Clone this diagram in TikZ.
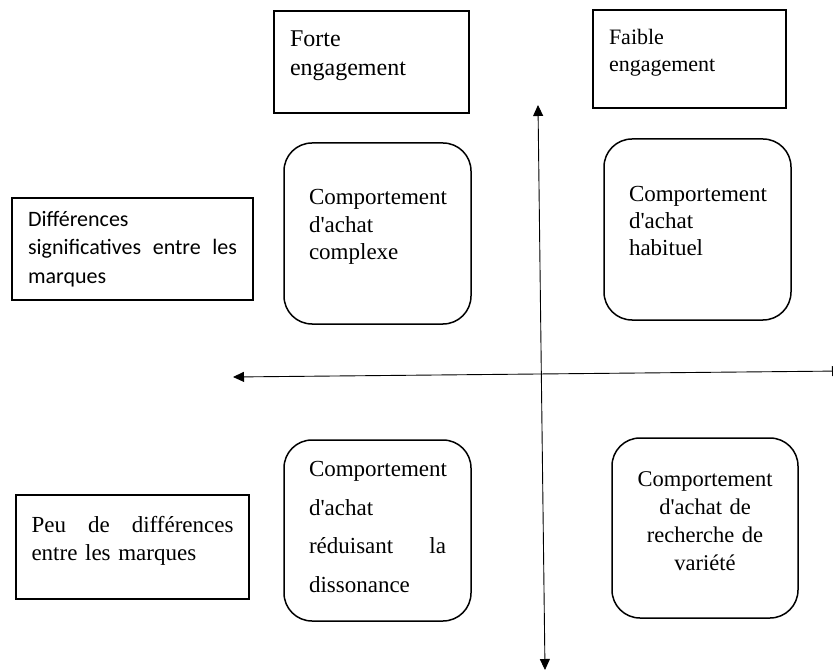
\documentclass[tikz,border=0pt]{standalone}
\usepackage{fontspec}
\setmainfont{Liberation Serif}
\newfontfamily\carlito{Carlito}
\usepackage{tikz}
\usetikzlibrary{arrows.meta, positioning}
\newcommand{\pousse}[1]{\rule[-#1]{0pt}{#1}}
\newcommand{\ap}{\textquotesingle}

\begin{document}
\begin{tikzpicture}[x=1pt, y=-1pt,
  cadre/.style={rectangle, draw, line width=1.5pt, inner sep=0pt},
  bulle/.style={rectangle, draw, line width=1.5pt, rounded corners=28pt, inner sep=0pt, minimum width=187pt, minimum height=181pt, text width=137pt},
  axe/.style={{Triangle[length=11pt,width=10pt]}-{Triangle[length=11pt,width=10pt]}, line width=0.9pt}]
\useasboundingbox (0,0) rectangle (833,671);

\node (forte) [cadre, minimum width=195pt, minimum height=102pt, text width=163pt, align=left, font=\fontsize{24}{29}\selectfont] at (371.5,62) {Forte\\engagement\pousse{17pt}};
\node (faible) [cadre, minimum width=193pt, minimum height=98pt, text width=161pt, align=left, font=\fontsize{22}{27.7}\selectfont] at (689.5,59) {Faible\\engagement\pousse{17pt}};

\node (diff) [cadre, minimum width=241pt, minimum height=102pt, text width=209pt, align=left, font=\carlito\fontsize{22}{28.7}\selectfont] at (132.5,249) {Différences\\significatives\hfill entre\hfill les\\marques};
\node (peu) [cadre, minimum width=233pt, minimum height=104pt, text width=202pt, align=left, font=\fontsize{23}{28}\selectfont] at (132.5,547) {Peu\hfill de\hfill différences\\entre les marques\pousse{18pt}};

\node (complexe) [bulle, align=left, font=\fontsize{23}{27.5}\selectfont] at (377.5,233.5) {Comportement\\d\ap achat\\complexe\pousse{18pt}};
\node (habituel) [bulle, align=left, font=\fontsize{23}{27.3}\selectfont] at (697.5,229.5) {Comportement\\d\ap achat\\habituel\pousse{17pt}};
\node (dissonance) [bulle, align=left, font=\fontsize{23}{38.7}\selectfont] at (377.5,530.5) {Comportement\\d\ap achat\\réduisant\hfill la\\dissonance\pousse{7pt}};
\node (variete) [bulle, minimum width=186pt, minimum height=180pt, align=center, font=\fontsize{22.5}{27.7}\selectfont] at (705,528) {Comportement\\d\ap achat de\\recherche de\\variété\pousse{14pt}};

\coordinate (haut) at (538,105);
\coordinate (bas) at (545,670);
\coordinate (gauche) at (233,377);
\coordinate (droite) at (843,371);

\draw[axe] (haut) -- (bas);
\draw[axe] (gauche) -- (droite);
\end{tikzpicture}
\end{document}
